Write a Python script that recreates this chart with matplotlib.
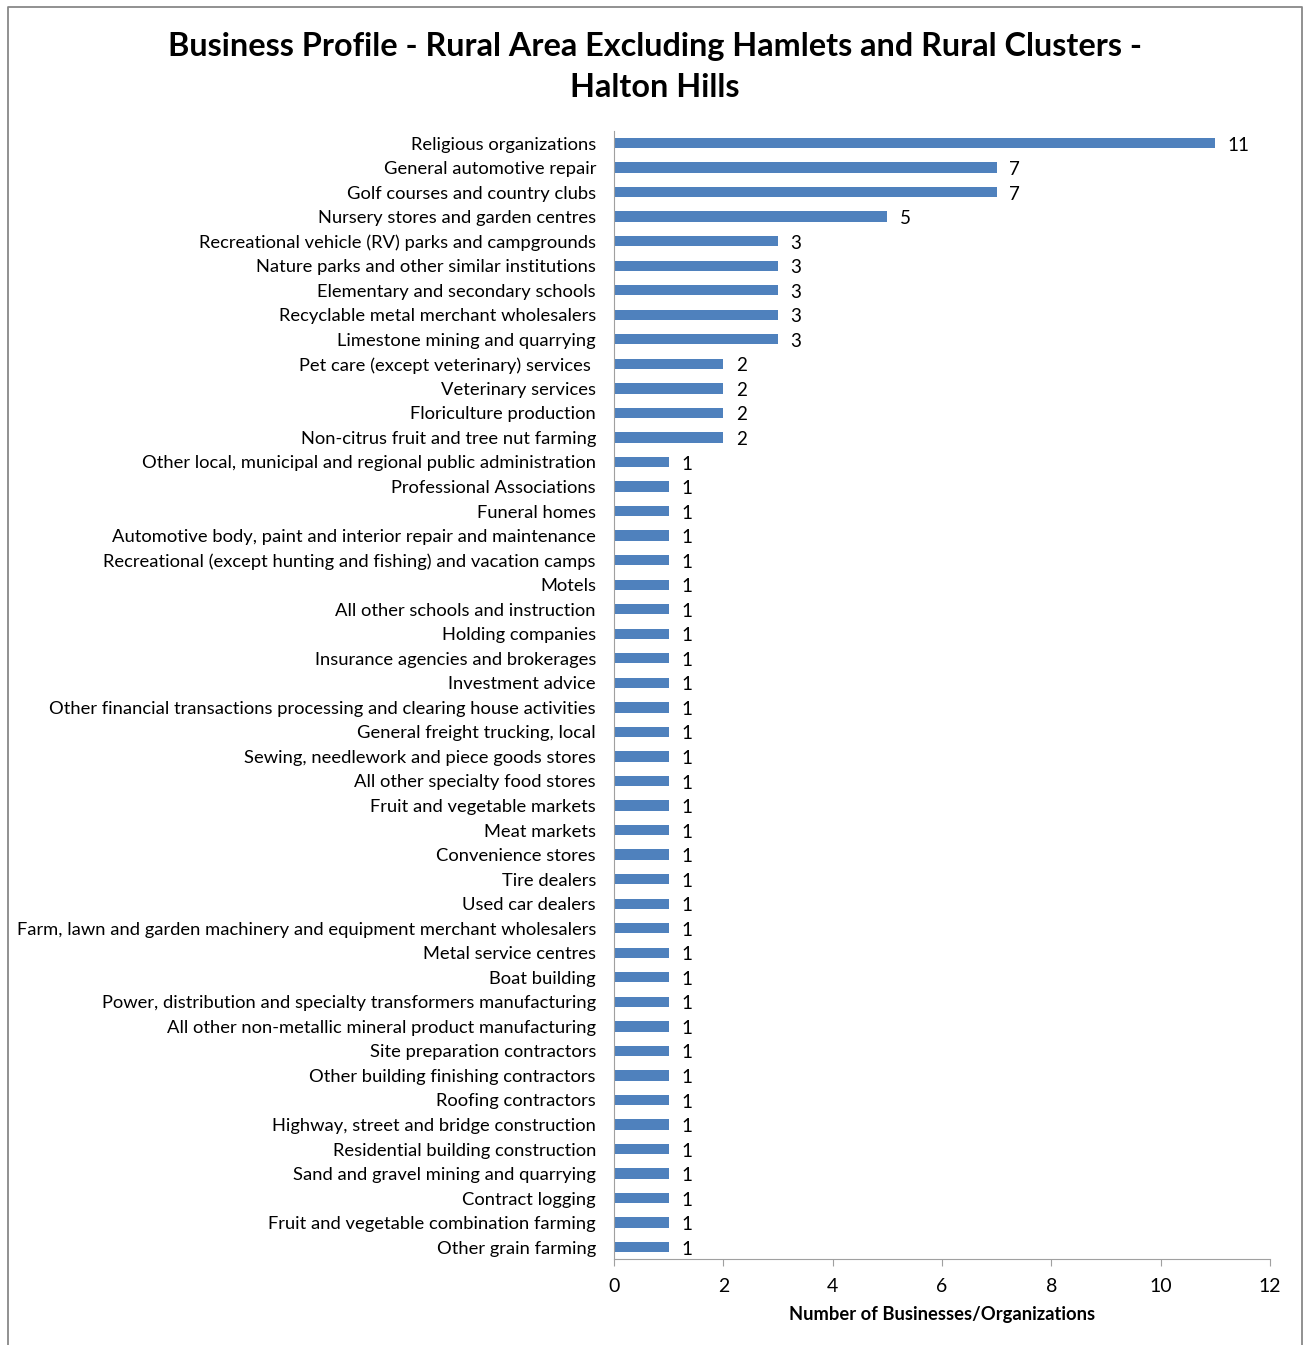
import matplotlib.pyplot as plt
from matplotlib.lines import Line2D

# ==== data ====
categories = [
    "Religious organizations",
    "General automotive repair",
    "Golf courses and country clubs",
    "Nursery stores and garden centres",
    "Recreational vehicle (RV) parks and campgrounds",
    "Nature parks and other similar institutions",
    "Elementary and secondary schools",
    "Recyclable metal merchant wholesalers",
    "Limestone mining and quarrying",
    "Pet care (except veterinary) services ",
    "Veterinary services",
    "Floriculture production",
    "Non-citrus fruit and tree nut farming",
    "Other local, municipal and regional public administration",
    "Professional Associations",
    "Funeral homes",
    "Automotive body, paint and interior repair and maintenance",
    "Recreational (except hunting and fishing) and vacation camps",
    "Motels",
    "All other schools and instruction",
    "Holding companies",
    "Insurance agencies and brokerages",
    "Investment advice",
    "Other financial transactions processing and clearing house activities",
    "General freight trucking, local",
    "Sewing, needlework and piece goods stores",
    "All other specialty food stores",
    "Fruit and vegetable markets",
    "Meat markets",
    "Convenience stores",
    "Tire dealers",
    "Used car dealers",
    "Farm, lawn and garden machinery and equipment merchant wholesalers",
    "Metal service centres",
    "Boat building",
    "Power, distribution and specialty transformers manufacturing",
    "All other non-metallic mineral product manufacturing",
    "Site preparation contractors",
    "Other building finishing contractors",
    "Roofing contractors",
    "Highway, street and bridge construction",
    "Residential building construction",
    "Sand and gravel mining and quarrying",
    "Contract logging",
    "Fruit and vegetable combination farming",
    "Other grain farming",
]
counts = [11, 7, 7, 5, 3, 3, 3, 3, 3, 2, 2, 2, 2] + [1] * 33
x_ticks = [0, 2, 4, 6, 8, 10, 12]

title = "Business Profile - Rural Area Excluding Hamlets and Rural Clusters -\nHalton Hills"
xlabel = "Number of Businesses/Organizations"

bar_color = "#4F81BD"
axis_color = "#A0A0A0"
fontsize = 13.2

plt.rcParams['font.family'] = ['Lato', 'DejaVu Sans']

fig = plt.figure(figsize=(13.04, 13.45), dpi=100)
ax = fig.add_axes([0.4709, 0.0636, 0.503, 0.8392])

ypos = list(range(len(categories)))
ax.barh(ypos, counts, height=0.42, color=bar_color)
for y, v in zip(ypos, counts):
    ax.annotate(str(v), xy=(v, y), xytext=(9, -1.5), textcoords="offset points",
                va="center", ha="left", fontsize=13.5)

ax.set_ylim(len(categories) - 0.5, -0.5)
ax.set_xlim(0, 12)
ax.set_yticks(ypos)
ax.set_yticklabels(categories, fontsize=fontsize)
ax.set_xticks(x_ticks)
ax.set_xticklabels([str(t) for t in x_ticks], fontsize=14)
ax.tick_params(axis="y", length=0, pad=13)
ax.tick_params(axis="x", length=5, color=axis_color, pad=8)
ax.set_xlabel(xlabel, fontsize=fontsize, fontweight="bold", labelpad=8)

for side in ["top", "right"]:
    ax.spines[side].set_visible(False)
for side in ["left", "bottom"]:
    ax.spines[side].set_color(axis_color)

fig.suptitle(title, fontsize=23.3, fontweight="bold", x=0.502, y=0.976, va="top",
             linespacing=1.5)

# outer chart border (bottom edge falls outside the image)
bx0, bx1 = 7.5 / 1304, 1301.5 / 1304
by = 1 - 6.5 / 1345
fig.add_artist(Line2D([bx0, bx0, bx1, bx1], [0, by, by, 0],
                      transform=fig.transFigure, color="#888888", linewidth=1.3))

plt.savefig("out.png", dpi=100)
